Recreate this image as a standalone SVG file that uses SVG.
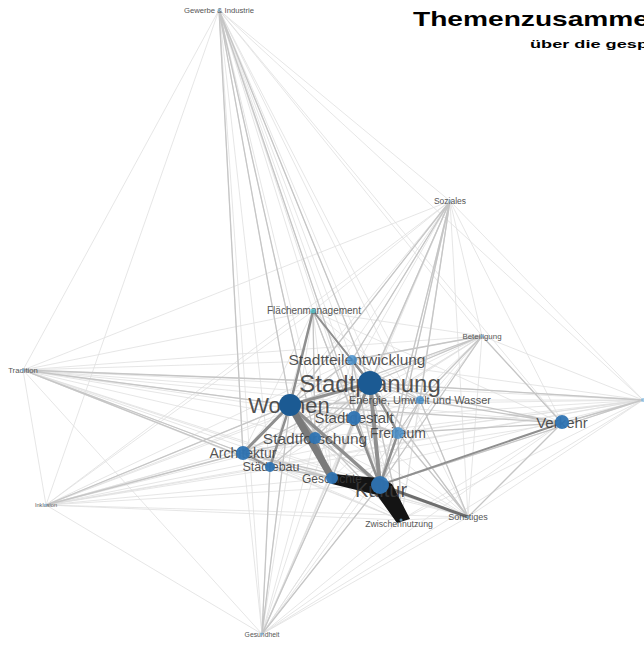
<svg xmlns="http://www.w3.org/2000/svg" width="644" height="645" viewBox="0 0 644 645">
<style>
  text { font-family: "Liberation Sans", Arial, sans-serif; text-anchor: middle; }
  .title { font-weight: bold; fill: #000; text-anchor: start; }
  .lab { fill: #3a3a3a; fill-opacity: 0.88; }
  .plab { fill: #555; }
  .e-faint { fill: none; stroke: #e0e0e0; stroke-width: 0.8; }
  .e-mid { fill: none; stroke: #c6c6c6; stroke-width: 1.3; }
  .e-dark { fill: none; stroke: #8f8f8f; stroke-linecap: round; }
  .big { fill: #1b5a93; }
  .mid { fill: #2f74b3; fill-opacity: 0.95; }
  .small { fill: #4a92cc; fill-opacity: 0.85; }
  .pt { fill: #7ab7e0; fill-opacity: 0.7; }
</style>
<rect width="644" height="645" fill="#fff"/>

<!-- heading, running off the right edge -->
<text class="title" x="413" y="26" font-size="21" textLength="236" lengthAdjust="spacingAndGlyphs">Themenzusamme</text>
<text class="title" x="530" y="48" font-size="11.5" textLength="118" lengthAdjust="spacingAndGlyphs">über die gesp</text>

<g id="connectors">
  <!-- outer topics to the core topics -->
  <path class="e-faint" d="M219 10L370 383M219 10L352 360M219 10L290 405M219 10L420 400M219 10L354 418M219 10L398 433M219 10L315 438M219 10L243 453M219 10L270 467M219 10L332 478M219 10L380 485M219 10L562 423
  M450 201L370 383M450 201L352 360M450 201L290 405M450 201L420 400M450 201L354 418M450 201L398 433M450 201L315 438M450 201L243 453M450 201L270 467M450 201L332 478M450 201L380 485M450 201L562 423
  M313 311L370 383M313 311L352 360M313 311L290 405M313 311L420 400M313 311L354 418M313 311L398 433M313 311L315 438M313 311L243 453M313 311L270 467M313 311L332 478M313 311L380 485M313 311L562 423
  M482 336L370 383M482 336L352 360M482 336L290 405M482 336L420 400M482 336L354 418M482 336L398 433M482 336L315 438M482 336L243 453M482 336L270 467M482 336L332 478M482 336L380 485M482 336L562 423
  M23 370L370 383M23 370L352 360M23 370L290 405M23 370L420 400M23 370L354 418M23 370L398 433M23 370L315 438M23 370L243 453M23 370L270 467M23 370L332 478M23 370L380 485M23 370L562 423
  M46 505L370 383M46 505L352 360M46 505L290 405M46 505L420 400M46 505L354 418M46 505L398 433M46 505L315 438M46 505L243 453M46 505L270 467M46 505L332 478M46 505L380 485M46 505L562 423
  M262 634L370 383M262 634L352 360M262 634L290 405M262 634L420 400M262 634L354 418M262 634L398 433M262 634L315 438M262 634L243 453M262 634L270 467M262 634L332 478M262 634L380 485M262 634L562 423
  M468 517L370 383M468 517L352 360M468 517L290 405M468 517L420 400M468 517L354 418M468 517L398 433M468 517L315 438M468 517L243 453M468 517L270 467M468 517L332 478M468 517L380 485M468 517L562 423
  M401 520L370 383M401 520L352 360M401 520L290 405M401 520L420 400M401 520L354 418M401 520L398 433M401 520L315 438M401 520L243 453M401 520L270 467M401 520L332 478M401 520L562 423
  M643 400L370 383M643 400L352 360M643 400L290 405M643 400L420 400M643 400L354 418M643 400L398 433M643 400L315 438M643 400L243 453M643 400L270 467M643 400L332 478M643 400L380 485M643 400L562 423
  M219 10L450 201M219 10L23 370M219 10L46 505M219 10L262 634M219 10L468 517M219 10L643 400M219 10L482 336M219 10L313 311M219 10L401 520
  M450 201L23 370M450 201L482 336M450 201L313 311M450 201L643 400M450 201L468 517M450 201L262 634M450 201L46 505M450 201L401 520
  M23 370L482 336M23 370L313 311M23 370L46 505M23 370L262 634M23 370L468 517M23 370L401 520M23 370L643 400
  M46 505L262 634M46 505L468 517M46 505L401 520M46 505L643 400M46 505L313 311M46 505L482 336
  M262 634L468 517M262 634L401 520M262 634L643 400M262 634L313 311M262 634L482 336
  M468 517L643 400M468 517L482 336M401 520L643 400M482 336L643 400M313 311L482 336M468 517L401 520"/>
  <!-- stronger links -->
  <path class="e-mid" d="M219 10L290 405M219 10L370 383M219 10L380 485M219 10L243 453M219 10L315 438
  M450 201L370 383M450 201L398 433M450 201L380 485M450 201L420 400M450 201L352 360M450 201L290 405
  M313 311L290 405M313 311L370 383M313 311L315 438M313 311L380 485
  M482 336L370 383M482 336L420 400M482 336L562 423M482 336L290 405M482 336L380 485M482 336L352 360
  M23 370L290 405M23 370L243 453M23 370L370 383M23 370L270 467
  M46 505L243 453M46 505L290 405
  M262 634L332 478M262 634L380 485M262 634L270 467M262 634L290 405
  M468 517L370 383M468 517L398 433M468 517L420 400M468 517L562 423
  M401 520L370 383M401 520L290 405M401 520L398 433
  M643 400L562 423M643 400L380 485M643 400L370 383
  M370 383L420 400M370 383L315 438M370 383L243 453M370 383L270 467M370 383L332 478M370 383L562 423
  M290 405L352 360M290 405L354 418M290 405L420 400M290 405L398 433M290 405L562 423
  M380 485L243 453M380 485L270 467M380 485L315 438M380 485L420 400M380 485L352 360
  M354 418L398 433M354 418L315 438M243 453L315 438M243 453L332 478M270 467L332 478M398 433L420 400
  M420 400L562 423M398 433L562 423M352 360L354 418M352 360L420 400M354 418L332 478"/>
  <!-- heavy links -->
  <line class="e-dark" x1="290" y1="405" x2="370" y2="383" stroke-width="3"/>
  <line class="e-dark" x1="290" y1="405" x2="243" y2="453" stroke-width="3"/>
  <line class="e-dark" x1="290" y1="405" x2="315" y2="438" stroke-width="3"/>
  <line class="e-dark" x1="290" y1="405" x2="270" y2="467" stroke-width="2.5"/>
  <line class="e-dark" x1="370" y1="383" x2="352" y2="360" stroke-width="2.5"/>
  <line class="e-dark" x1="370" y1="383" x2="354" y2="418" stroke-width="3"/>
  <line class="e-dark" x1="370" y1="383" x2="398" y2="433" stroke-width="2.5"/>
  <line class="e-dark" x1="370" y1="383" x2="380" y2="485" stroke-width="4"/>
  <line class="e-dark" x1="290" y1="405" x2="380" y2="485" stroke-width="3.5"/>
  <line class="e-dark" x1="380" y1="485" x2="398" y2="433" stroke-width="2.5"/>
  <line class="e-dark" x1="380" y1="485" x2="354" y2="418" stroke-width="2.5"/>
  <line class="e-dark" x1="380" y1="485" x2="562" y2="423" stroke-width="2"/>
  <line class="e-dark" x1="313" y1="311" x2="290" y2="405" stroke-width="2.5"/>
  <line class="e-dark" x1="313" y1="311" x2="370" y2="383" stroke-width="2"/>
  <line class="e-dark" x1="243" y1="453" x2="270" y2="467" stroke-width="2"/>
  <line class="e-dark" x1="315" y1="438" x2="332" y2="478" stroke-width="2"/>
  <line x1="290" y1="405" x2="332" y2="478" stroke="#7a7a7a" stroke-width="7" stroke-linecap="round"/>
  <line x1="380" y1="485" x2="468" y2="517" stroke="#6e6e6e" stroke-width="3" stroke-linecap="round"/>
  <!-- Geschichte – Kultur – Zwischennutzung -->
  <polygon points="332,474 380,478 392,484 410,519 397,523 377,495 332,484" fill="#141414"/>
</g>

<g id="n-gewerbe"><text class="plab" x="219" y="12.5" font-size="7.7">Gewerbe &amp; Industrie</text><circle class="pt" cx="219" cy="10" r="1.5"/></g>
<g id="n-soziales"><text class="plab" x="450" y="204" font-size="8.5">Soziales</text><circle class="pt" cx="450" cy="201" r="1.5"/></g>
<g id="n-flaechen"><text class="plab" x="314" y="314" font-size="10">Flächenmanagement</text><circle cx="313" cy="311" r="2.5" fill="#4fc3c8" fill-opacity="0.8"/></g>
<g id="n-beteiligung"><text class="plab" x="482" y="339" font-size="7.9">Beteiligung</text><circle class="pt" cx="482" cy="336" r="1.5"/></g>
<g id="n-tradition"><text class="plab" x="23" y="373" font-size="7.7">Tradition</text><circle class="pt" cx="23" cy="370" r="1.5"/></g>
<g id="n-inklusion"><text class="plab" x="46" y="507" font-size="5.6">Inklusion</text><circle class="pt" cx="46" cy="505" r="1.2"/></g>
<g id="n-gesundheit"><text class="plab" x="262" y="637" font-size="6.8">Gesundheit</text><circle class="pt" cx="262" cy="634" r="1.5"/></g>
<g id="n-sonstiges"><text class="plab" x="468" y="520" font-size="9">Sonstiges</text><circle class="pt" cx="468" cy="517" r="1.5"/></g>
<g id="n-zwischennutzung"><text class="plab" x="399" y="527" font-size="8.7">Zwischennutzung</text><circle class="pt" cx="401" cy="520" r="1.5"/></g>
<g id="n-rand"><circle class="pt" cx="643" cy="400" r="2"/></g>

<g id="n-energie"><text class="lab" x="420" y="404" font-size="11">Energie, Umwelt und Wasser</text><circle class="small" cx="420" cy="400" r="4"/></g>
<g id="n-stadtteil"><text class="lab" x="357" y="365" font-size="15.5">Stadtteilentwicklung</text><circle class="small" cx="352" cy="360" r="5"/></g>
<g id="n-stadtgestalt"><text class="lab" x="354" y="423" font-size="15">Stadtgestalt</text><circle class="mid" cx="354" cy="418" r="7"/></g>
<g id="n-freiraum"><text class="lab" x="398" y="438" font-size="14">Freiraum</text><circle class="small" cx="398" cy="433" r="6"/></g>
<g id="n-stadtforschung"><text class="lab" x="315" y="444" font-size="15.5">Stadtforschung</text><circle class="mid" cx="315" cy="438" r="6"/></g>
<g id="n-architektur"><text class="lab" x="243" y="458" font-size="14">Architektur</text><circle class="mid" cx="243" cy="453" r="7"/></g>
<g id="n-staedtebau"><text class="lab" x="271" y="471" font-size="12.5">Städtebau</text><circle class="mid" cx="270" cy="467" r="5"/></g>
<g id="n-geschichte"><text class="lab" x="332" y="483" font-size="12">Geschichte</text><circle class="mid" cx="332" cy="478" r="6"/></g>
<g id="n-verkehr"><text class="lab" x="562" y="428" font-size="15">Verkehr</text><circle class="mid" cx="562" cy="422" r="7"/></g>
<g id="n-kultur"><text class="lab" x="381" y="497" font-size="20">Kultur</text><circle class="mid" cx="380" cy="485" r="9"/></g>
<g id="n-wohnen"><text class="lab" x="289" y="413" font-size="22">Wohnen</text><circle class="big" cx="290" cy="405" r="11"/></g>
<g id="n-stadtplanung"><text class="lab" x="370" y="392" font-size="24">Stadtplanung</text><circle class="big" cx="370" cy="383" r="12"/></g>
</svg>
